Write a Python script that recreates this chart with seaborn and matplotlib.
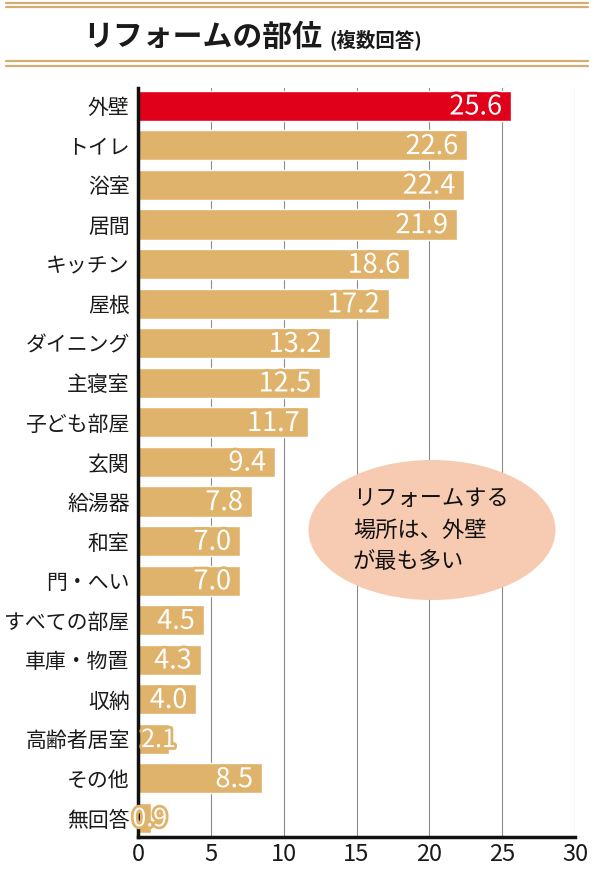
import matplotlib
matplotlib.use("Agg")
import matplotlib.pyplot as plt
import seaborn as sns
import pandas as pd
from matplotlib.patches import Ellipse
import matplotlib.patheffects as pe

parts = ['外壁', 'トイレ', '浴室', '居間', 'キッチン', '屋根', 'ダイニング', '主寝室',
         '子ども部屋', '玄関', '給湯器', '和室', '門・へい', 'すべての部屋', '車庫・物置',
         '収納', '高齢者居室', 'その他', '無回答']
values = [25.6, 22.6, 22.4, 21.9, 18.6, 17.2, 13.2, 12.5, 11.7, 9.4, 7.8, 7.0, 7.0,
          4.5, 4.3, 4.0, 2.1, 8.5, 0.9]
x_ticks = [0, 5, 10, 15, 20, 25, 30]

gold = '#dfb36b'
red = '#e0001a'
colors = [red] + [gold] * (len(parts) - 1)

sns.set_style('white')
plt.rcParams['font.family'] = ['Noto Sans CJK JP', 'DejaVu Sans']

df = pd.DataFrame({'part': parts, 'value': values})

fig = plt.figure(figsize=(5.94, 8.72), dpi=100)
ax = fig.add_axes([138 / 594, 1 - 837 / 872, 437 / 594, (837 - 88) / 872])

sns.barplot(data=df, x='value', y='part', hue='part', palette=colors, legend=False,
            width=0.76, saturation=1, ax=ax)

ax.set_xlim(0, 30)
ax.set_ylim(18.48, -0.45)
ax.set_xticks(x_ticks)
ax.set_xticklabels([str(t) for t in x_ticks], fontsize=17, color='#1a1a1a')
ax.tick_params(axis='x', length=0, pad=4)
ax.tick_params(axis='y', length=0, pad=6, labelsize=15, labelcolor='#1a1a1a')
ax.set_xlabel('')
ax.set_ylabel('')
ax.set_axisbelow(True)
ax.grid(axis='x', color='#8c8c8c', linewidth=0.8)
ax.grid(axis='y', visible=False)
for s in ['top', 'right']:
    ax.spines[s].set_visible(False)
for s in ['left', 'bottom']:
    ax.spines[s].set_color('#111111')
    ax.spines[s].set_linewidth(2.5)

for i, v in enumerate(values):
    c = colors[i]
    xpos = v - 0.6 if v > 3 else max(v + 0.5, 2.0)
    ax.text(xpos, i + 0.03, f'{v:.1f}', ha='right', va='center',
            fontsize=19.5 if v > 3 else 18, color='white', zorder=4,
            path_effects=[pe.withStroke(linewidth=4, foreground=c)])

# callout ellipse
ell = Ellipse((432 / 594, 1 - 530 / 872), width=247 / 594, height=140 / 872,
              transform=fig.transFigure, facecolor='#f6cbb2', edgecolor='none', zorder=5)
fig.add_artist(ell)
fig.text(353 / 594, 1 - 530 / 872, 'リフォームする\n場所は、外壁\nが最も多い',
         ha='left', va='center', fontsize=16, linespacing=1.45, color='#111111', zorder=6)

# title with double rules
for y in [2.7, 6.7, 61, 66]:
    fig.add_artist(plt.Line2D([6 / 594, 588 / 594], [1 - y / 872, 1 - y / 872],
                              transform=fig.transFigure, color='#d3ae74', linewidth=1.6))
fig.text(83 / 594, 1 - 37 / 872, 'リフォームの部位', ha='left', va='center',
         fontsize=21.5, fontweight='bold', color='#1a1a1a')
fig.text(329 / 594, 1 - 40 / 872, '(複数回答)', ha='left', va='center',
         fontsize=14, fontweight='bold', color='#1a1a1a')

fig.savefig('out.png', dpi=100, facecolor='white')
